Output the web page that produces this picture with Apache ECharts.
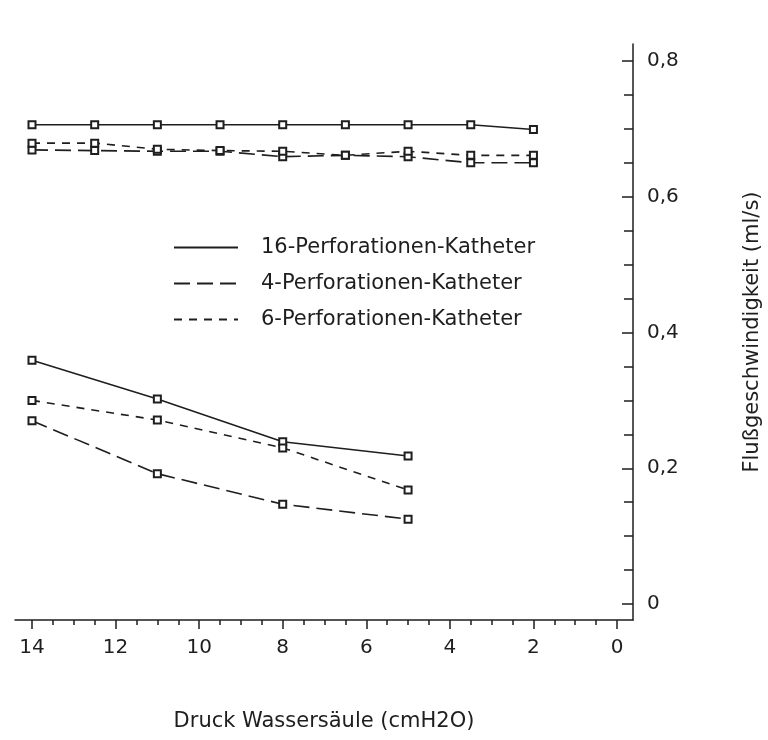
<!DOCTYPE html>
<html>
<head>
<meta charset="utf-8">
<script src="https://cdn.jsdelivr.net/npm/echarts@6/dist/echarts.min.js"></script>
<style>
html,body{margin:0;padding:0;background:#fff;}
#chart{width:768px;height:740px;}
</style>
</head>
<body>
<div id="chart"></div>
<script>
// ---- data ----
const seriesNames = ['16-Perforationen-Katheter', '4-Perforationen-Katheter', '6-Perforationen-Katheter'];
const pressureHigh = [14, 12.5, 11, 9.5, 8, 6.5, 5, 3.5, 2];
const pressureLow = [14, 11, 8, 5];
const flow16High = [0.706, 0.706, 0.706, 0.706, 0.706, 0.706, 0.706, 0.706, 0.699];
const flow4High = [0.669, 0.668, 0.667, 0.667, 0.659, 0.661, 0.659, 0.650, 0.650];
const flow6High = [0.679, 0.679, 0.670, 0.668, 0.667, 0.661, 0.667, 0.661, 0.661];
const flow16Low = [0.359, 0.302, 0.239, 0.218];
const flow4Low = [0.270, 0.192, 0.147, 0.125];
const flow6Low = [0.300, 0.271, 0.230, 0.168];
const xTitle = 'Druck Wassersäule (cmH2O)';
const yTitle = 'Flußgeschwindigkeit (ml/s)';

const ink = '#1e1e1e';
const font = 'DejaVu Sans';
const lineTypes = {
  '16-Perforationen-Katheter': 'solid',
  '4-Perforationen-Katheter': [16, 7],
  '6-Perforationen-Katheter': [8, 7]
};
function pairs(xs, ys) { return xs.map((x, i) => [x, ys[i]]); }
function mk(name, xs, ys) {
  return {
    name: name, type: 'line', xAxisIndex: 1, yAxisIndex: 1,
    data: pairs(xs, ys),
    symbol: 'emptyRect', symbolSize: 7,
    itemStyle: { color: ink, borderWidth: 1.3 },
    lineStyle: { color: ink, width: 1.6, type: lineTypes[name] },
    emphasis: { disabled: true }
  };
}

const chart = echarts.init(document.getElementById('chart'), null, { renderer: 'canvas' });
chart.setOption({
  animation: false,
  backgroundColor: '#fff',
  textStyle: { fontFamily: font, color: ink },
  legend: {
    data: seriesNames,
    orient: 'vertical',
    left: 168, top: 232,
    itemWidth: 64, itemHeight: 14, itemGap: 15,
    itemStyle: { opacity: 0 },
    textStyle: { fontFamily: font, fontSize: 21, color: ink, padding: [0, 0, 0, 18] },
    selectedMode: false
  },
  grid: [
    { left: 15, right: 135, top: 44, bottom: 120, outerBoundsMode: 'none', containLabel: false },
    { left: 32, right: 151, top: 61, bottom: 136, outerBoundsMode: 'none', containLabel: false }
  ],
  xAxis: [
    {
      gridIndex: 0, type: 'value', min: 0, max: 1,
      axisLine: { show: true, onZero: false, lineStyle: { color: ink, width: 1.5 } },
      axisTick: { show: false }, axisLabel: { show: false }, splitLine: { show: false },
      name: xTitle, nameLocation: 'middle', nameGap: 91,
      nameTextStyle: { fontFamily: font, fontSize: 21, color: ink }
    },
    {
      gridIndex: 1, type: 'value', inverse: true, min: 0, max: 14, interval: 2,
      position: 'bottom', offset: 16,
      axisLine: { show: false, onZero: false },
      axisTick: { show: true, length: 9, lineStyle: { color: ink, width: 1.5 } },
      minorTick: { show: true, splitNumber: 4, length: 5, lineStyle: { color: ink, width: 1.5 } },
      axisLabel: { fontFamily: font, fontSize: 20, color: ink, margin: 18 },
      splitLine: { show: false }
    }
  ],
  yAxis: [
    {
      gridIndex: 0, type: 'value', min: 0, max: 1, position: 'right',
      axisLine: { show: true, onZero: false, lineStyle: { color: ink, width: 1.5 } },
      axisTick: { show: false }, axisLabel: { show: false }, splitLine: { show: false },
      name: yTitle, nameLocation: 'middle', nameRotate: 90, nameGap: 109,
      nameTextStyle: { fontFamily: font, fontSize: 21, color: ink }
    },
    {
      gridIndex: 1, type: 'value', min: 0, max: 0.8, interval: 0.2,
      position: 'right', offset: 16,
      axisLine: { show: false, onZero: false },
      axisTick: { show: true, inside: true, length: 11, lineStyle: { color: ink, width: 1.5 } },
      minorTick: { show: true, splitNumber: 4, length: 9, lineStyle: { color: ink, width: 1.5 } },
      axisLabel: { fontFamily: font, fontSize: 20, color: ink, margin: 14,
        formatter: v => String(v).replace('.', ',') },
      splitLine: { show: false }
    }
  ],
  series: [
    mk(seriesNames[0], pressureHigh, flow16High),
    mk(seriesNames[1], pressureHigh, flow4High),
    mk(seriesNames[2], pressureHigh, flow6High),
    mk(seriesNames[0], pressureLow, flow16Low),
    mk(seriesNames[1], pressureLow, flow4Low),
    mk(seriesNames[2], pressureLow, flow6Low)
  ]
});
</script>
</body>
</html>
